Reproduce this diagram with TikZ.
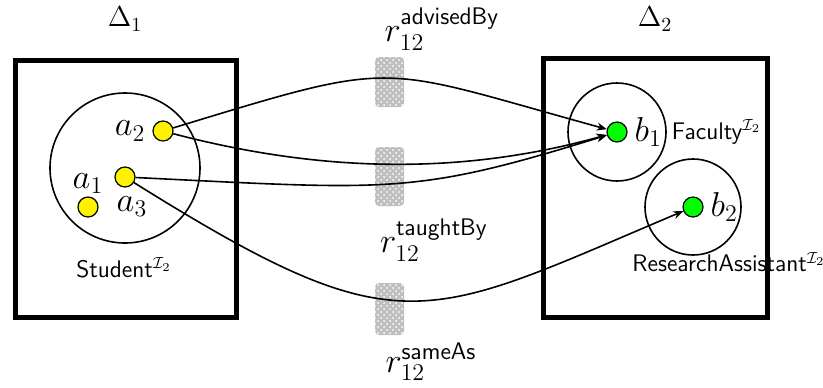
\documentclass[tikz,border=0pt]{standalone}
\usepackage{amsmath}
\usetikzlibrary{positioning,arrows.meta,patterns}

\begin{document}
\begin{tikzpicture}[x=0.5pt,y=-0.5pt,
	universe/.style={draw,rectangle,line width=2.5pt,inner sep=0pt},
	concept/.style={draw,circle,line width=0.8pt,inner sep=0pt},
	indiv/.style={draw,circle,line width=0.6pt,minimum size=10pt,inner sep=0pt},
	barrier/.style={rectangle,rounded corners=2pt,inner sep=0pt,minimum width=14.5pt,
		preaction={fill=gray!50},pattern=crosshatch dots,pattern color=white},
	link/.style={->,line width=0.8pt},
	>={Stealth[length=5pt,width=4pt]}]
	\useasboundingbox (0,0) rectangle (823,387);
	
	% the two domains
	\node[universe,minimum width=110.5pt,minimum height=128.5pt] (D1) at (125.5,188.5) {};
	\node[font=\Large] (D1label) at (125,19) {$\Delta_1$};
	\node[universe,minimum width=112pt,minimum height=129.5pt] (D2) at (655,187.5) {};
	\node[font=\Large] (D2label) at (655,19) {$\Delta_2$};
	
	% concepts
	\node[concept,minimum size=75pt] (student) at (125,168) {};
	\node[font=\large] (studentlabel) at (124,268) {\textsf{Student}$^{\mathcal{I}_2}$};
	\node[concept,minimum size=49pt,label={[font=\large,label distance=-1pt]right:\textsf{Faculty}$^{\mathcal{I}_2}$}] (faculty) at (617,132) {};
	\node[concept,minimum size=48pt] (assistant) at (693,207) {};
	\node[font=\large] (assistantlabel) at (729,262) {\textsf{ResearchAssistant}$^{\mathcal{I}_2}$};
	
	% individuals
	\node[indiv,fill=yellow,label={[font=\LARGE,yshift=-2pt]above:$a_1$}] (a1) at (88,207) {};
	\node[indiv,fill=yellow,label={[font=\LARGE]left:$a_2$}] (a2) at (163,131) {};
	\node[indiv,fill=yellow,label={[font=\LARGE,xshift=3.5pt,yshift=-1pt]below:$a_3$}] (a3) at (125,177) {};
	\node[indiv,fill=green,label={[font=\LARGE]right:$b_1$}] (b1) at (617,132) {};
	\node[indiv,fill=green,label={[font=\LARGE]right:$b_2$}] (b2) at (693,207) {};
	
	% hatched bars
	\node[barrier,minimum height=25pt] (h1) at (389.5,82) {};
	\node[barrier,minimum height=29.5pt] (h2) at (389.5,176.5) {};
	\node[barrier,minimum height=26pt] (h3) at (389.5,309) {};
	\node[font=\LARGE] (r1) at (442,29) {$r_{12}^{\mathsf{advisedBy}}$};
	\node[font=\LARGE] (r2) at (434,240) {$r_{12}^{\mathsf{taughtBy}}$};
	\node[font=\LARGE] (r3) at (431,362) {$r_{12}^{\mathsf{sameAs}}$};
	
	% mappings
	\draw[link] (a2) .. controls (403,58) and (373,65) .. (b1);
	\draw[link] (a2) .. controls (319,172) and (460,176) .. (b1);
	\draw[link] (a3) .. controls (392,190) and (414,195) .. (b1);
	\draw[link] (a3) .. controls (402,350) and (423,321) .. (b2);
	
\end{tikzpicture}
\end{document}
